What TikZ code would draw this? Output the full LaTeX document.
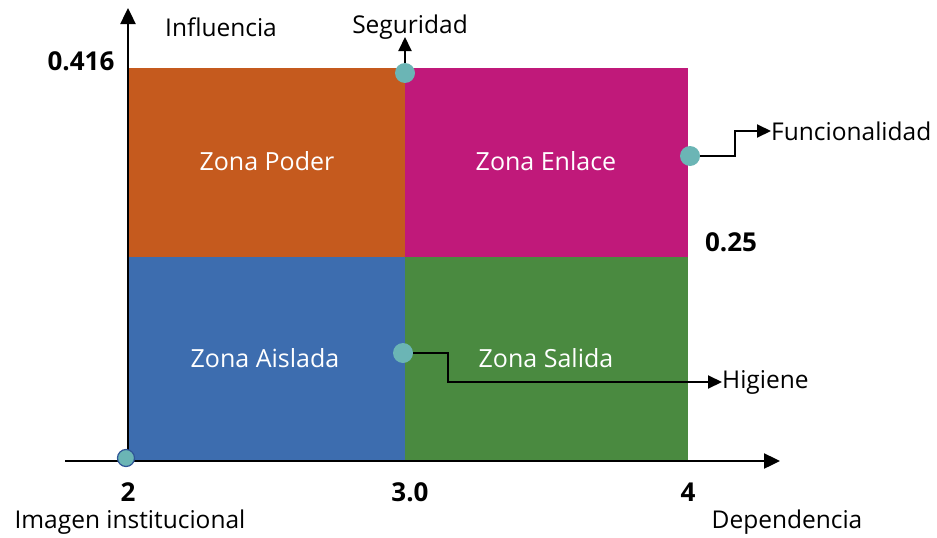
\documentclass[tikz,border=0pt]{standalone}
\usepackage{fontspec}
\setmainfont{Open Sans}
\usetikzlibrary{arrows.meta}
\definecolor{cpoder}{HTML}{C55A1E}
\definecolor{cenlace}{HTML}{C0197A}
\definecolor{caislada}{HTML}{3D6DAF}
\definecolor{csalida}{HTML}{4A8A40}
\definecolor{cdot}{HTML}{6BB5B5}
\definecolor{cdotb}{HTML}{2F5597}
\tikzset{
  zlabel/.style={text=white,font=\fontsize{25}{30}\selectfont},
  lbl/.style={font=\fontsize{24.5}{29}\selectfont,inner sep=0pt},
  num/.style={font=\bfseries\fontsize{26}{31}\selectfont,inner sep=0pt},
  dot/.style={circle,fill=cdot,minimum size=20pt,inner sep=0pt},
  conn/.style={draw=black,line width=2pt,-{Triangle[length=14pt,width=13pt]}},
  axis/.style={draw=black,line width=2.4pt,-{Triangle[length=16pt,width=15pt]}}
}
\begin{document}
\begin{tikzpicture}[x=1pt,y=-1pt]
\useasboundingbox (0,0) rectangle (937,538);
\fill[cpoder] (128,68) rectangle (405,257);
\fill[cenlace] (405,68) rectangle (688,257);
\fill[caislada] (128,257) rectangle (405,461);
\fill[csalida] (405,257) rectangle (688,461);
\node[zlabel] (zp) at (267,161) {Zona Poder};
\node[zlabel] (ze) at (546,161) {Zona Enlace};
\node[zlabel] (za) at (265,358) {Zona Aislada};
\node[zlabel] (zs) at (546,358) {Zona Salida};
\coordinate (yb) at (128,461);
\coordinate (yt) at (128,8);
\coordinate (xl) at (65,461);
\coordinate (xr) at (780,461);
\draw[axis] (yb) -- (yt);
\draw[axis] (xl) -- (xr);
\node[lbl] (infl) at (221,27) {Influencia};
\node[lbl] (seg) at (410,27) {Seguridad};
\node[lbl,anchor=west] (fun) at (771,131) {Funcionalidad};
\node[lbl,anchor=west] (hig) at (722,382) {Higiene};
\node[lbl] (img) at (130,522) {Imagen institucional};
\node[lbl] (dep) at (787,522) {Dependencia};
\node[num] (n416) at (81,61) {0.416};
\node[num] (n25) at (731,242) {0.25};
\node[num] (n2) at (128,492) {2};
\node[num] (n3) at (410,492) {3.0};
\node[num] (n4) at (688,492) {4};
\node[dot] (dseg) at (405,73) {};
\node[dot] (dfun) at (690,156) {};
\node[dot] (dhig) at (403,353) {};
\node[dot,draw=cdotb,line width=1.2pt,minimum size=17pt] (dimg) at (126,458) {};
\coordinate (segtip) at (405,37);
\draw[conn] (dseg.north) -- (segtip);
\draw[conn] (dfun.east) -- (735,156) |- (fun.west);
\draw[conn] (dhig.east) -- (448,353) |- (hig.west);
\end{tikzpicture}
\end{document}
